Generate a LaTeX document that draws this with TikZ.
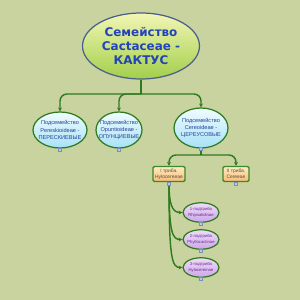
\documentclass[tikz,border=0pt]{standalone}
\usepackage{fontspec}
\setmainfont{DejaVu Sans}
\newfontfamily\smallsans{Liberation Sans}
\usepackage{xcolor}
\usetikzlibrary{arrows.meta,positioning,shapes,calc}

\definecolor{bgolive}{HTML}{C9D3A0}
\definecolor{famtop}{HTML}{F2F6B4}
\definecolor{fambot}{HTML}{A2CF4A}
\definecolor{famedge}{HTML}{4B5E8E}
\definecolor{famtext}{HTML}{2343B8}
\definecolor{subtop}{HTML}{F0FCFF}
\definecolor{subbot}{HTML}{A6E2F6}
\definecolor{subtext}{HTML}{2A3F9A}
\definecolor{linkgreen}{HTML}{2E7A1E}
\definecolor{tribetop}{HTML}{FFEBC8}
\definecolor{tribebot}{HTML}{F6BE72}
\definecolor{tribeedge}{HTML}{3A8A26}
\definecolor{tribetext}{HTML}{5A4A3A}
\definecolor{sttop}{HTML}{EEDDF8}
\definecolor{stbot}{HTML}{CDA6EA}
\definecolor{sttext}{HTML}{6A2A8A}
\definecolor{knobfill}{HTML}{B0CCEA}
\definecolor{knobedge}{HTML}{7892B4}

\begin{document}
\begin{tikzpicture}[
  x=0.02cm, y=-0.02cm,
  fam/.style={ellipse, draw=famedge, line width=0.7pt,
              top color=famtop, bottom color=fambot,
              minimum width=2.34cm, minimum height=1.32cm, inner sep=0pt,
              align=center, text=famtext,
              font=\bfseries\fontsize{6.8}{8}\selectfont},
  subfam/.style={ellipse, draw=linkgreen, line width=0.7pt,
              top color=subtop, bottom color=subbot,
              minimum height=0.72cm, inner xsep=-0.2cm, inner ysep=0pt,
              align=center, text=subtext,
              font=\smallsans\fontsize{3.2}{4.1}\selectfont},
  tribe/.style={rectangle, rounded corners=0.8pt, draw=tribeedge, line width=0.8pt,
              top color=tribetop, bottom color=tribebot,
              minimum height=0.3cm, inner sep=0.5pt,
              align=center, text=tribetext,
              font=\smallsans\fontsize{2.8}{3.3}\selectfont},
  subtribe/.style={ellipse, draw=linkgreen, line width=0.7pt,
              top color=sttop, bottom color=stbot,
              minimum width=0.72cm, minimum height=0.39cm,
              inner xsep=-0.1cm, inner ysep=0pt,
              align=center, text=sttext,
              font=\smallsans\fontsize{2.4}{3}\selectfont},
  knob/.style={rectangle, draw=knobedge, fill=knobfill, line width=0.2pt,
              minimum size=0.06cm, inner sep=0pt},
  link/.style={draw=linkgreen, line width=0.8pt, rounded corners=4pt},
  >={Stealth[length=2.2pt,width=2.2pt]}
]
% Background
\fill[bgolive] (0,0) rectangle (300,300);

% Family
\node[fam] (fam) at (141,46) {Семейство\\Cactaceae -\\КАКТУС};

% Subfamilies
\node[subfam, minimum width=1.08cm] (sfA) at (60,130)
  {Подсемейство\\Pereskioideae -\\ПЕРЕСКИЕВЫЕ};
\node[subfam, minimum width=0.92cm] (sfB) at (119,130)
  {Подсемейство\\Opuntioideae -\\ОПУНЦИЕВЫЕ};
\node[subfam, minimum width=1.08cm, minimum height=0.8cm] (sfC) at (201,128)
  {Подсемейство\\Cereoideae -\\ЦЕРЕУСОВЫЕ};

% Tribes
\node[tribe, minimum width=0.64cm] (trA) at (169,174) {I триба.\\Hylocereeae};
\node[tribe, minimum width=0.52cm] (trB) at (236,174) {II триба.\\Cereeae};

% Subtribes
\node[subtribe] (stA) at (201,212.5) {1-подтриба\\Rhipsalidinae};
\node[subtribe] (stB) at (201,239.5) {2-подтриба\\Phyllocactinae};
\node[subtribe] (stC) at (201,267.5) {3-подтриба\\Hylocereinae};

% Branch points
\coordinate (hubF) at (141,94);
\coordinate (hubC) at (201,155);

% Links
\draw[link] (fam.south) -- (hubF);
\draw[link,->] (hubF) -| (sfA.north);
\draw[link,->] (hubF) -| (sfB.north);
\draw[link,->] (hubF) -| (sfC.north);
\draw[link] (sfC.south) -- (hubC);
\draw[link,->] (hubC) -| (trA.north);
\draw[link,->] (hubC) -| (trB.north);
\draw[link,->] (trA.south) .. controls (169,204) and (172,212.5) .. (stA.west);
\draw[link,->] (trA.south) .. controls (169,231) and (172,239.5) .. (stB.west);
\draw[link,->] (trA.south) .. controls (169,259) and (172,267.5) .. (stC.west);

% Collapse markers
\node[knob] (kA) at (60,150) {};
\node[knob] (kB) at (119,150) {};
\node[knob] (kC) at (201,149) {};
\node[knob] (kD) at (169,184) {};
\node[knob] (kE) at (236,184) {};
\node[knob] (kF) at (201,224) {};
\node[knob] (kG) at (201,251) {};
\node[knob] (kH) at (201,279) {};
\end{tikzpicture}
\end{document}
